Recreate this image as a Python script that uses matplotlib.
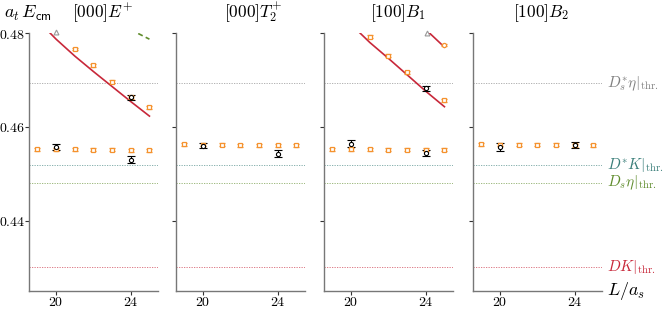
import matplotlib
matplotlib.use('Agg')
import matplotlib.pyplot as plt

plt.rcParams['mathtext.fontset'] = 'cm'
plt.rcParams['font.family'] = 'serif'
plt.rcParams['font.serif'] = ['DejaVu Serif']

# volumes
L_all = [19, 20, 21, 22, 23, 24, 25]
L_lat = [20, 24]

titles = [r'$[000]E^{+}$', r'$[000]T_2^{+}$', r'$[100]B_1$', r'$[100]B_2$']

# thresholds
thr_names = [r'$D_s^{*}\eta|_{\rm thr.}$', r'$D^{*}K|_{\rm thr.}$',
             r'$D_s\eta|_{\rm thr.}$', r'$DK|_{\rm thr.}$']
thr_vals = [0.4693, 0.4518, 0.4480, 0.4301]
thr_cols = ['#808080', '#3b7f7a', '#5f8c2c', '#c8283a']

# orange: predicted levels (lower level) per panel
orange_low = [
    [0.4552, 0.4552, 0.4552, 0.4551, 0.4551, 0.4550, 0.4550],
    [0.4563, 0.4562, 0.4562, 0.4561, 0.4561, 0.4561, 0.4561],
    [0.4552, 0.4552, 0.4552, 0.4551, 0.4551, 0.4551, 0.4551],
    [0.4563, 0.4562, 0.4562, 0.4562, 0.4562, 0.4561, 0.4561],
]
orange_err = 0.0003
# orange upper levels (panels 1 and 3)
orange_up_L = [[21, 22, 23, 24, 25], [], [21, 22, 23, 25], []]
orange_up_E = [[0.4766, 0.4731, 0.4696, 0.4663, 0.4642], [],
               [0.4792, 0.4752, 0.4716, 0.4657], []]
orange_top_L = [[], [], [25], []]
orange_top_E = [[], [], [0.4775], []]

# black: lattice levels
black_E = [[0.4557, 0.4530], [0.4560, 0.4543], [0.4564, 0.4544], [0.4557, 0.4562]]
black_err = [[0.0006, 0.0008], [0.0005, 0.0007], [0.0007, 0.0007], [0.0009, 0.0006]]
black_up_L = [[24], [], [24], []]
black_up_E = [[0.4663], [], [0.4682], []]
black_up_err = [[0.0005], [], [0.0005], []]

# gray points at top
gray_L = [[20], [], [24.05], []]
gray_E = [[0.4802], [], [0.4801], []]

# non-interacting curves
red_L = [[19.68, 20, 21, 22, 23, 24, 25], [], [20.48, 21, 22, 23, 24, 25], []]
red_E = [[0.4800, 0.4787, 0.4751, 0.4718, 0.4686, 0.4654, 0.4623], [],
         [0.4800, 0.4780, 0.4746, 0.4711, 0.4676, 0.4643], []]
red2_L = [[], [], [24.2, 25.0], []]
red2_E = [[], [], [0.4800, 0.4770], []]
green_L = [[24.4, 25.0], [], [], []]
green_E = [[0.4799, 0.4787], [], [], []]

fig = plt.figure(figsize=(6.64, 3.09), dpi=100)
lefts = [0.0437, 0.265, 0.488, 0.712]
title_x = [103, 253, 398, 541]
orange = '#f5922e'
red = '#c8283a'
for i in range(4):
    ax = fig.add_axes([lefts[i], 0.058, 0.194, 0.835])
    for v, c in zip(thr_vals, thr_cols):
        ax.axhline(v, color=c, ls=(0, (1.5, 1.5)), lw=0.6, alpha=0.7)
    ax.plot(red_L[i], red_E[i], color=red, lw=1.2)
    ax.plot(red2_L[i], red2_E[i], color=red, lw=1.2)
    ax.plot(green_L[i], green_E[i], color='#5f8c2c', lw=1.2, ls=(0, (3, 2)))
    ax.errorbar(L_all, orange_low[i], yerr=orange_err, fmt='s', ms=3, mfc='white',
                mec=orange, mew=0.9, ecolor=orange, elinewidth=1.2, capsize=2.5, capthick=1.0)
    if orange_up_L[i]:
        ax.errorbar(orange_up_L[i], orange_up_E[i], yerr=orange_err, fmt='s', ms=3, mfc='white',
                    mec=orange, mew=0.9, ecolor=orange, elinewidth=1.2, capsize=2.5, capthick=1.0)
    if orange_top_L[i]:
        ax.errorbar(orange_top_L[i], orange_top_E[i], yerr=0.0002, fmt='o', ms=3, mfc='white',
                    mec=orange, mew=0.9, ecolor=orange, elinewidth=1.0, capsize=2, capthick=1.0)
    ax.errorbar(L_lat, black_E[i], yerr=black_err[i], fmt='o', ms=3, mfc='white',
                mec='black', mew=0.8, ecolor='black', elinewidth=0.8, capsize=3, capthick=0.9)
    if black_up_L[i]:
        ax.errorbar(black_up_L[i], black_up_E[i], yerr=black_up_err[i], fmt='o', ms=3, mfc='white',
                    mec='black', mew=0.8, ecolor='black', elinewidth=0.8, capsize=3, capthick=0.9)
    if gray_L[i]:
        ax.plot(gray_L[i], gray_E[i], marker='^', ms=3.5, mfc='white', mec='#999999',
                mew=0.8, ls='none', clip_on=False)

    ax.set_xlim(18.55, 25.45)
    ax.set_ylim(0.425, 0.48)
    ax.set_xticks([20, 24])
    ax.set_xticklabels([r'$20$', r'$24$'], fontsize=10)
    ax.set_yticks([0.44, 0.46, 0.48])
    if i == 0:
        ax.set_yticklabels([r'$0.44$', r'$0.46$', r'$0.48$'], fontsize=10)
    else:
        ax.set_yticklabels([])
    for s in ['top', 'right']:
        ax.spines[s].set_visible(False)
    for s in ['left', 'bottom']:
        ax.spines[s].set_color('#777777')
        ax.spines[s].set_linewidth(1.0)
    ax.tick_params(direction='out', length=3, width=0.8, color='#333333', pad=0)
    fig.text(title_x[i] / 664, 0.958, titles[i], fontsize=12.5, ha='center', va='center')

    if i == 3:
        for v, c, n in zip(thr_vals, thr_cols, thr_names):
            ax.text(25.75, v, n, color=c, fontsize=11, va='center', ha='left', clip_on=False)
        ax.text(25.75, 0.425, r'$L/a_s$', fontsize=13, va='center', ha='left')

fig.text(0.006, 0.958, r'$a_t\,E_{\mathsf{cm}}$', fontsize=13, va='center', ha='left')
fig.savefig('out.png', dpi=100)
